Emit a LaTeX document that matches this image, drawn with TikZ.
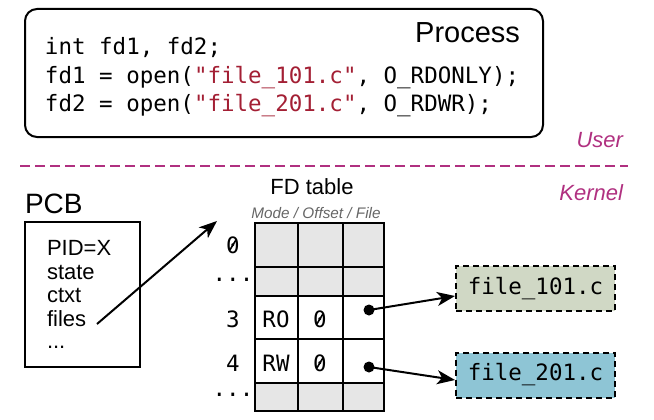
\documentclass[tikz,border=0pt]{standalone}
\usepackage{fontspec}
\setmainfont{Liberation Sans}
\newfontfamily\codefont{DejaVu Sans Mono}
\usetikzlibrary{arrows.meta}
\definecolor{strred}{HTML}{A31F34}
\definecolor{ukmag}{HTML}{B03080}
\definecolor{cellgray}{HTML}{E6E6E6}
\definecolor{fileone}{HTML}{D0D8C5}
\definecolor{filetwo}{HTML}{8EC5D5}
\definecolor{hintgray}{HTML}{666666}
\begin{document}
\begin{tikzpicture}[x=1pt,y=-1pt,
  txt/.style={inner sep=0pt, outer sep=0pt},
  code/.style={txt, font=\codefont\fontsize{22.5}{27}\selectfont},
  sans/.style={txt, font=\fontsize{22}{26}\selectfont},
  box/.style={draw, line width=2pt, inner sep=0pt},
  filebox/.style={draw, line width=2pt, dash pattern=on 6pt off 4pt, inner sep=0pt,
    minimum width=159pt, minimum height=45pt, font=\codefont\fontsize{22.5}{27}\selectfont},
  arr/.style={line width=2pt, -{Stealth[length=18pt,width=14pt,inset=5pt]}},
  dot/.style={circle, fill=black, inner sep=0pt, minimum size=11pt},
  zslash/.style={line width=1.6pt}
]
\useasboundingbox (0,0) rectangle (654,420);

% Process box
\node[box, rounded corners=12pt, minimum width=518pt, minimum height=128pt] (proc) at (284,73) {};
\node[txt, font=\fontsize{29}{33}\selectfont, anchor=base east] (proctitle) at (520,43) {Process};
\node[code, anchor=base west] (l1) at (45,55) {int fd1, fd2;};
\node[code, anchor=base west] (l2) at (45,84) {fd1 = open(\textcolor{strred}{"file\_101.c"}, O\_RDONLY);};
\node[code, anchor=base west] (l3) at (45,112) {fd2 = open(\textcolor{strred}{"file\_201.c"}, O\_RDWR);};

% User / Kernel
\node[sans, font=\itshape\fontsize{22}{26}\selectfont, text=ukmag, anchor=base east] (user) at (623,147) {User};
\coordinate (sepl) at (20,166);
\coordinate (sepr) at (628,166);
\draw[ukmag, line width=2.5pt, dash pattern=on 10pt off 5pt] (sepl) -- (sepr);
\node[sans, font=\itshape\fontsize{22}{26}\selectfont, text=ukmag, anchor=base east] (kernel) at (623,200) {Kernel};

% PCB
\node[txt, font=\fontsize{28}{32}\selectfont, anchor=base west] (pcbtitle) at (25,213) {PCB};
\node[box, minimum width=115pt, minimum height=145pt] (pcb) at (82.5,294.5) {};
\node[sans, anchor=base west] (pid) at (47,255) {PID=X};
\node[sans, anchor=base west] (state) at (47,279) {state};
\node[sans, anchor=base west] (ctxt) at (47,302) {ctxt};
\node[sans, anchor=base west] (files) at (47,326) {files};
\node[sans, anchor=base west] (more) at (47,348) {...};

\coordinate (pcbfrom) at (97,324);
\coordinate (tblto) at (217,221);
\draw[arr] (pcbfrom) -- (tblto);

% FD table
\node[txt, font=\fontsize{22}{26}\selectfont, anchor=base] (fdtitle) at (312,194) {FD table};
\node[txt, font=\itshape\fontsize{15.3}{18}\selectfont, text=hintgray, anchor=base] (hint) at (316,218) {Mode / Offset / File};

\fill[cellgray] (255,223) rectangle (384,296);
\fill[cellgray] (255,383) rectangle (384,411);
\draw[line width=2pt] (255,223) rectangle (384,411);
\foreach \yy in {267,296,339,383} \draw[line width=2pt] (255,\yy) -- (384,\yy);
\foreach \xx in {298,343} \draw[line width=2pt] (\xx,223) -- (\xx,411);

\node[code, anchor=base] (r0) at (233,253) {0};
\node[code] (rd1) at (233,280) {...};
\node[code, anchor=base] (r3) at (233,327) {3};
\node[code, anchor=base] (r4) at (233,371) {4};
\node[code] (rd2) at (233,395) {...};

\node[code, anchor=base] (m3) at (276,327) {RO};
\node[code, anchor=base] (o3) at (320,327) {0};
\node[code, anchor=base] (m4) at (276,371) {RW};
\node[code, anchor=base] (o4) at (320,371) {0};
\foreach \z in {r0,o3,o4}
  \draw[zslash] ([xshift=-3pt,yshift=-5pt]\z.center) -- ([xshift=3pt,yshift=5pt]\z.center);

\node[dot] (d3) at (369,310) {};
\node[dot] (d4) at (369,367) {};

% files
\node[filebox, fill=fileone] (f1) at (535.5,288.5) {file\_101.c};
\node[filebox, fill=filetwo] (f2) at (535.5,375) {file\_201.c};

\draw[arr] (d3.center) -- ([yshift=-7.5pt]f1.west);
\draw[arr] (d4.center) -- ([yshift=-5pt]f2.west);
\end{tikzpicture}
\end{document}
